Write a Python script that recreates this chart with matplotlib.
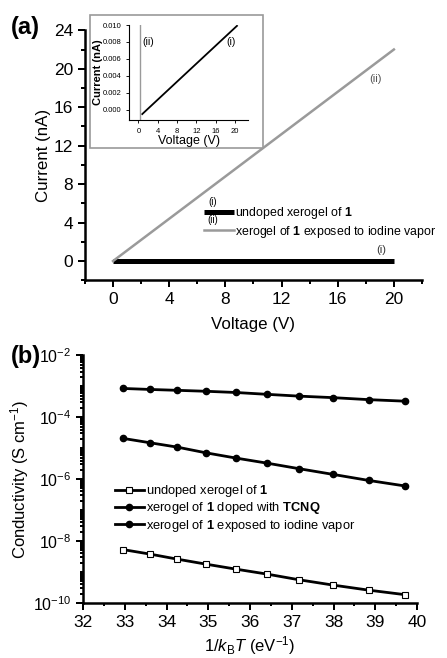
import numpy as np
import matplotlib
matplotlib.use("Agg")
import matplotlib.pyplot as plt
from matplotlib.patches import Rectangle
from matplotlib.ticker import MultipleLocator, FixedLocator, NullFormatter

plt.rcParams["font.family"] = ["Liberation Sans", "DejaVu Sans"]
plt.rcParams["mathtext.fontset"] = "custom"
plt.rcParams["mathtext.rm"] = "Liberation Sans"
plt.rcParams["mathtext.it"] = "Liberation Sans:italic"
plt.rcParams["mathtext.bf"] = "Liberation Sans:bold"

# =========================
# DATA
# =========================
# (a) I-V curves
voltage = [0, 20]
current_undoped = [0, 0]
current_iodine = [0, 22]

# inset (zoom on the undoped curve)
inset_voltage = [0.8, 20.4]
inset_current_undoped = [-0.0005, 0.0099]
inset_voltage_iodine = [0.4, 0.4]
inset_current_iodine = [-0.0012, 0.0100]

# (b) conductivity vs 1/kT
inv_kt = [32.96, 33.6, 34.26, 34.94, 35.66, 36.4, 37.18, 37.98, 38.84, 39.72]
cond_undoped = [5.3e-9, 3.8e-9, 2.6e-9, 1.8e-9, 1.24e-9, 8.6e-10, 5.6e-10, 3.8e-10, 2.6e-10, 1.85e-10]
cond_tcnq = [2.07e-5, 1.5e-5, 1.08e-5, 7.1e-6, 4.8e-6, 3.3e-6, 2.17e-6, 1.43e-6, 9.1e-7, 6.0e-7]
cond_iodine = [8.5e-4, 7.9e-4, 7.4e-4, 6.9e-4, 6.3e-4, 5.5e-4, 4.8e-4, 4.3e-4, 3.7e-4, 3.3e-4]

gray = "#9a9a9a"
spine_lw = 1.8


def style_axes(ax, lw=spine_lw, fs=12.5, major_len=5, minor_len=3):
    for s in ["top", "right"]:
        ax.spines[s].set_visible(False)
    for s in ["left", "bottom"]:
        ax.spines[s].set_linewidth(lw)
    ax.tick_params(which="major", direction="out", length=major_len, width=lw * 0.8, labelsize=fs)
    ax.tick_params(which="minor", direction="out", length=minor_len, width=lw * 0.8)


fig = plt.figure(figsize=(4.47, 6.58), dpi=100)

# =========================
# PANEL (a)
# =========================
ax_a = fig.add_axes([0.190, 0.574, 0.754, 0.380])
ax_a.plot(voltage, current_undoped, color="black", lw=3.6, solid_capstyle="butt",
          label=r"undoped xerogel of $\mathbf{1}$")
ax_a.plot(voltage, current_iodine, color=gray, lw=1.8,
          label=r"xerogel of $\mathbf{1}$ exposed to iodine vapor")
ax_a.set_xlim(-2, 22)
ax_a.set_ylim(-2, 24)
ax_a.xaxis.set_major_locator(FixedLocator([0, 4, 8, 12, 16, 20]))
ax_a.xaxis.set_minor_locator(FixedLocator([-2, 2, 6, 10, 14, 18, 22]))
ax_a.yaxis.set_major_locator(FixedLocator([0, 4, 8, 12, 16, 20, 24]))
ax_a.yaxis.set_minor_locator(FixedLocator([-2, 2, 6, 10, 14, 18, 22]))
style_axes(ax_a)
ax_a.set_xlabel("Voltage (V)", fontsize=12.2, labelpad=7)
ax_a.set_ylabel("Current (nA)", fontsize=12.2, labelpad=2)
ax_a.text(18.7, 18.9, "(ii)", fontsize=8, color="#555555", ha="center", va="center")
ax_a.text(19.1, 1.1, "(i)", fontsize=8, color="#333333", ha="center", va="center")

leg = ax_a.legend(loc="upper left", bbox_to_anchor=(0.335, 0.325), frameon=False,
                  fontsize=8.9, handlelength=2.45, handletextpad=0.05,
                  borderpad=0, labelspacing=0.2)
ax_a.text(0.38, 0.314, "(i)", transform=ax_a.transAxes, fontsize=7, ha="center", va="center")
ax_a.text(0.38, 0.242, "(ii)", transform=ax_a.transAxes, fontsize=7, ha="center", va="center")

fig.text(0.025, 0.958, "(a)", fontsize=17, fontweight="bold", va="center")

# inset frame
fig.patches.append(Rectangle((0.201, 0.775), 0.387, 0.202, transform=fig.transFigure,
                             fill=True, facecolor="white", edgecolor=gray, lw=1.2, zorder=5))

ax_in = fig.add_axes([0.289, 0.8176, 0.266, 0.1444], zorder=10)
ax_in.patch.set_alpha(0)
ax_in.plot(inset_voltage, inset_current_undoped, color="black", lw=1.3)
ax_in.plot(inset_voltage_iodine, inset_current_iodine, color=gray, lw=1.0)
ax_in.set_xlim(-1.9, 22.7)
ax_in.set_ylim(-0.0012, 0.010)
ax_in.xaxis.set_major_locator(FixedLocator([0, 4, 8, 12, 16, 20]))
ax_in.yaxis.set_major_locator(FixedLocator([0, 0.002, 0.004, 0.006, 0.008, 0.010]))
ax_in.yaxis.set_major_formatter(plt.FuncFormatter(lambda v, p: f"{v:.3f}"))
style_axes(ax_in, lw=0.8, fs=5.5, major_len=2, minor_len=1)
ax_in.set_xlabel("Voltage (V)", fontsize=9, labelpad=0)
ax_in.set_ylabel("Current (nA)", fontsize=8, fontweight="bold", labelpad=0)
ax_in.text(2.1, 0.0080, "(ii)", fontsize=7.5, ha="center", va="center")
ax_in.text(19.2, 0.0080, "(i)", fontsize=7.5, ha="center", va="center")

# =========================
# PANEL (b)
# =========================
ax_b = fig.add_axes([0.186, 0.0836, 0.747, 0.3764])
ax_b.plot(inv_kt, cond_undoped, color="black", lw=2, marker="s", ms=4.5,
          mfc="white", mec="black", mew=0.8, label=r"undoped xerogel of $\mathbf{1}$")
ax_b.plot(inv_kt, cond_tcnq, color="black", lw=2, marker="o", ms=4.5,
          label=r"xerogel of $\mathbf{1}$ doped with $\mathbf{TCNQ}$")
ax_b.plot(inv_kt, cond_iodine, color="black", lw=2, marker="o", ms=4.5,
          label=r"xerogel of $\mathbf{1}$ exposed to iodine vapor")
ax_b.set_yscale("log")
ax_b.set_xlim(32, 40)
ax_b.set_ylim(1e-10, 1e-2)
ax_b.xaxis.set_major_locator(MultipleLocator(1))
ax_b.xaxis.set_minor_locator(MultipleLocator(0.5))
ax_b.yaxis.set_major_locator(FixedLocator([1e-10, 1e-8, 1e-6, 1e-4, 1e-2]))
minor = [m * 10.0 ** e for e in range(-10, -2) for m in range(2, 10)] + [10.0 ** e for e in (-9, -7, -5, -3)]
ax_b.yaxis.set_minor_locator(FixedLocator(minor))
ax_b.yaxis.set_minor_formatter(NullFormatter())
style_axes(ax_b)
ax_b.tick_params(axis="y", which="major", labelsize=11.5)
ax_b.tick_params(which="minor", length=2.5)
ax_b.set_xlabel(r"1/$k_{\mathrm{B}}T$ (eV$^{-1}$)", fontsize=12, labelpad=3)
ax_b.set_ylabel(r"Conductivity (S cm$^{-1}$)", fontsize=12, labelpad=1)
ax_b.legend(loc="upper left", bbox_to_anchor=(0.075, 0.51), frameon=False,
            fontsize=9.3, handlelength=2.3, handletextpad=0.1,
            borderpad=0, labelspacing=0.1)

fig.text(0.025, 0.458, "(b)", fontsize=17, fontweight="bold", va="center")

fig.savefig("out.png", dpi=100)
